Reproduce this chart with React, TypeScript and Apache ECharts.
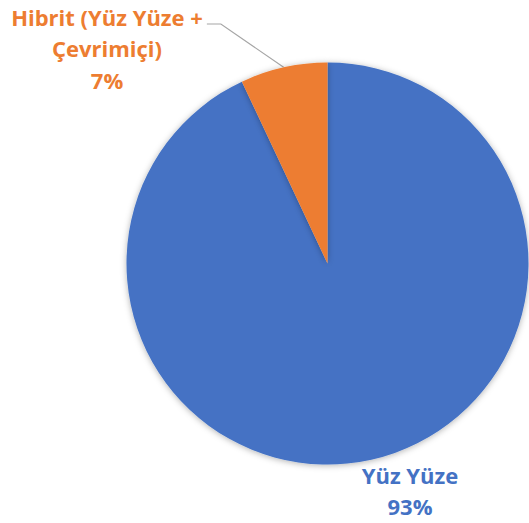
import React, { useEffect, useRef } from 'react';
import * as echarts from 'echarts';

const categories = ['Yüz Yüze', 'Hibrit (Yüz Yüze + Çevrimiçi)'];
const values = [93, 7];
const colors = ['#4472C4', '#ED7D31'];

export default function App() {
  const ref = useRef<HTMLDivElement>(null);
  useEffect(() => {
    document.body.style.margin = '0';
    const chart = echarts.init(ref.current!, null, { renderer: 'svg' });
    const FONT = 22;
    const LH = 31.5;
    const CX = 327.5;
    const CY = 263.5;
    const R = 201;
    const total = values.reduce((a, b) => a + b, 0);
    chart.setOption({
      animation: false,
      backgroundColor: '#ffffff',
      series: [
        {
          type: 'pie',
          center: [CX, CY],
          radius: R,
          startAngle: 90,
          clockwise: true,
          avoidLabelOverlap: false,
          itemStyle: { shadowBlur: 6, shadowColor: 'rgba(0,0,0,0.3)', shadowOffsetY: 1 },
          label: {
            show: true,
            position: 'outside',
            fontFamily: 'Open Sans',
            fontWeight: 'bold',
            fontSize: FONT,
            lineHeight: LH,
            formatter: (p: any) => `${p.name.replace(' + ', ' +\n')}\n${Math.round(p.percent)}%`,
          },
          labelLine: { show: true, lineStyle: { color: '#A6A6A6', width: 1.2 } },
          labelLayout: (p: any) => {
            if (p.dataIndex === 0) {
              return { x: 410, y: 459, align: 'center', verticalAlign: 'top' };
            }
            const cx = 107;
            const top = 1;
            const w = p.labelRect ? p.labelRect.width : 190;
            const endX = cx + w / 2 + 4;
            const lineY = top + 23;
            let before = 0;
            for (let i = 0; i < p.dataIndex; i++) before += values[i];
            const mid = (before + values[p.dataIndex] / 2) / total;
            const ang = (Math.PI / 180) * (90 - 360 * mid);
            const start = [CX + R * Math.cos(ang), CY - R * Math.sin(ang)];
            return {
              x: cx,
              y: top,
              align: 'center',
              verticalAlign: 'top',
              labelLinePoints: [start, [endX + 14, lineY], [endX, lineY]],
            };
          },
          data: categories.map((name, i) => ({
            name,
            value: values[i],
            itemStyle: { color: colors[i] },
            label: { color: colors[i] },
            labelLine: { show: i === 1 },
          })),
        },
      ],
    });
    return () => chart.dispose();
  }, []);
  return <div ref={ref} style={{ width: 529, height: 523 }} />;
}
